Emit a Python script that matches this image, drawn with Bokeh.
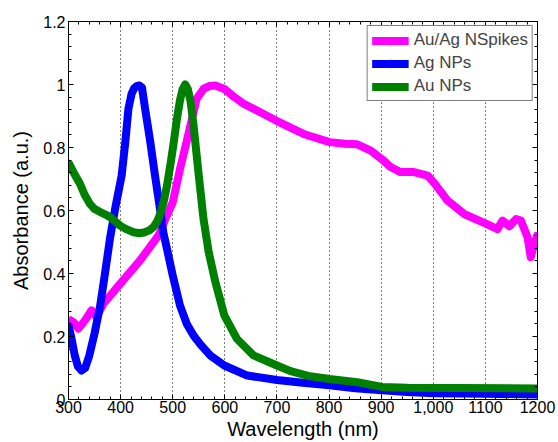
from bokeh.plotting import figure
from bokeh.models import (Range1d, LinearAxis, FixedTicker, Legend, LegendItem)
from bokeh.embed import file_html
from bokeh.resources import INLINE

# ---- data ----
spikes_nm = [300, 310, 319, 332, 344, 354, 367, 399, 437, 470, 476, 485, 500, 514, 524, 534, 546,
             559, 570, 582, 599, 618, 636, 668, 700, 751, 801, 830, 854, 880, 902, 918, 937, 963,
             989, 1002, 1027, 1059, 1103, 1123, 1133, 1146, 1159, 1168, 1181, 1187, 1194, 1200]
spikes_abs = [0.255, 0.245, 0.225, 0.252, 0.283, 0.262, 0.304, 0.367, 0.441, 0.515, 0.531, 0.57,
              0.626, 0.732, 0.80, 0.87, 0.955, 0.986, 0.995, 0.997, 0.986, 0.96, 0.939, 0.912,
              0.884, 0.843, 0.817, 0.812, 0.810, 0.790, 0.762, 0.738, 0.722, 0.722, 0.711, 0.687,
              0.632, 0.589, 0.557, 0.541, 0.568, 0.550, 0.573, 0.568, 0.515, 0.452, 0.494, 0.525]

ag_nm = [300, 305, 312, 318, 325, 332, 340, 350, 361, 370, 380, 390, 402, 409, 415, 421, 426,
         431, 436, 441, 447, 452, 457, 466, 476, 482, 489, 500, 514, 527, 540, 553, 572, 599,
         643, 700, 750, 801, 850, 902, 950, 1001, 1100, 1200]
ag_abs = [0.235, 0.20, 0.14, 0.105, 0.092, 0.10, 0.14, 0.21, 0.30, 0.40, 0.515, 0.61, 0.711,
          0.817, 0.923, 0.97, 0.988, 0.995, 0.997, 0.99, 0.923, 0.87, 0.817, 0.711, 0.60, 0.53,
          0.478, 0.394, 0.298, 0.24, 0.203, 0.175, 0.14, 0.108, 0.076, 0.062, 0.053, 0.045,
          0.036, 0.029, 0.024, 0.020, 0.018, 0.016]

au_nm = [300, 310, 322, 331, 341, 350, 361, 370, 380, 390, 399, 412, 425, 436, 447, 456, 463,
         470, 476, 483, 489, 496, 502, 508, 514, 519, 524, 529, 534, 540, 545, 550, 559, 569,
         582, 599, 623, 655, 700, 726, 760, 801, 854, 902, 950, 1200]
au_abs = [0.752, 0.72, 0.685, 0.65, 0.621, 0.605, 0.595, 0.588, 0.579, 0.565, 0.552, 0.54,
          0.531, 0.528, 0.531, 0.538, 0.547, 0.565, 0.589, 0.63, 0.679, 0.75, 0.817, 0.89,
          0.95, 0.985, 1.0, 0.985, 0.949, 0.87, 0.79, 0.711, 0.574, 0.468, 0.372, 0.267, 0.193,
          0.14, 0.108, 0.09, 0.075, 0.065, 0.055, 0.040, 0.037, 0.035]

x_ticks = [300, 400, 500, 600, 700, 800, 900, 1000, 1100, 1200]
x_tick_labels = ["300", "400", "500", "600", "700", "800", "900", "1,000", "1100", "1200"]
y_ticks = [0, 0.2, 0.4, 0.6, 0.8, 1.0, 1.2]
y_tick_labels = ["0", "0.2", "0.4", "0.6", "0.8", "1", "1.2"]

FONT = "Liberation Sans"

p = figure(width=558, height=442, output_backend="svg", toolbar_location=None,
           x_range=Range1d(300, 1200), y_range=Range1d(0, 1.2),
           min_border_left=68, min_border_right=21, min_border_top=21, min_border_bottom=43)
p.background_fill_color = "white"
p.border_fill_color = "white"
p.outline_line_color = "black"
p.outline_line_width = 1

xt = FixedTicker(ticks=x_ticks, minor_ticks=[300 + 20 * i for i in range(46)])
yt = FixedTicker(ticks=y_ticks, minor_ticks=[round(0.04 * i, 2) for i in range(31)])

p.xaxis.ticker = xt
p.yaxis.ticker = yt
p.xaxis.major_label_overrides = {t: l for t, l in zip(x_ticks, x_tick_labels)}
p.yaxis.major_label_overrides = {t: l for t, l in zip(y_ticks, y_tick_labels)}

for ax in (p.xaxis[0], p.yaxis[0]):
    ax.major_tick_in = 5
    ax.major_tick_out = 0
    ax.minor_tick_in = 3
    ax.minor_tick_out = 0
    ax.axis_line_color = "black"
    ax.major_tick_line_color = "black"
    ax.minor_tick_line_color = "black"
    ax.major_label_text_font = FONT
    ax.major_label_text_font_size = "16px"
    ax.major_label_text_color = "black"
    ax.axis_label_text_font = FONT
    ax.axis_label_text_font_size = "20px"
    ax.axis_label_text_font_style = "normal"
    ax.axis_label_text_color = "black"

p.xaxis.axis_label = "Wavelength (nm)"
p.yaxis.axis_label = "Absorbance (a.u.)"
p.xaxis.major_label_standoff = 1
p.xaxis.axis_label_standoff = 2
p.yaxis.major_label_standoff = 3
p.yaxis.axis_label_standoff = 8

# box ticks on top and right (no labels)
for loc, tk, ticks in (("right", yt, y_ticks), ("above", xt, x_ticks)):
    ax = LinearAxis(ticker=tk, major_tick_in=5, major_tick_out=0, minor_tick_in=3, minor_tick_out=0,
                    major_label_overrides={t: "" for t in ticks},
                    major_label_text_color=None, major_label_standoff=0,
                    axis_line_color="black")
    p.add_layout(ax, loc)

p.xgrid.ticker = xt
p.xgrid.grid_line_color = "black"
p.xgrid.grid_line_dash = "1 3"
p.xgrid.grid_line_width = 1
p.ygrid.grid_line_color = None

lw = 8
r1 = p.line(spikes_nm, spikes_abs, line_color="#FF00FF", line_width=lw, line_join="round")
m1 = p.scatter(spikes_nm, spikes_abs, marker="inverted_triangle", size=6, color="#FF00FF")
r2 = p.line(ag_nm, ag_abs, line_color="#0000FF", line_width=lw, line_join="round")
m2 = p.scatter(ag_nm, ag_abs, marker="circle", size=6, color="#0000FF")
r3 = p.line(au_nm, au_abs, line_color="#008000", line_width=lw, line_join="round")
m3 = p.scatter(au_nm, au_abs, marker="asterisk", size=6, color="#008000", line_width=2)

legend = Legend(items=[LegendItem(label="Au/Ag NSpikes", renderers=[r1, m1]),
                       LegendItem(label="Ag NPs", renderers=[r2, m2]),
                       LegendItem(label="Au NPs", renderers=[r3, m3])],
                location="top_right")
legend.label_text_font = FONT
legend.label_text_font_size = "17px"
legend.border_line_color = "black"
legend.border_line_width = 1
legend.background_fill_alpha = 1
legend.glyph_width = 37
legend.glyph_height = 19
legend.label_height = 19
legend.label_standoff = 5
legend.spacing = 3
legend.padding = 4
legend.margin = 4
p.add_layout(legend)

open("out.html", "w").write(file_html(p, INLINE))
